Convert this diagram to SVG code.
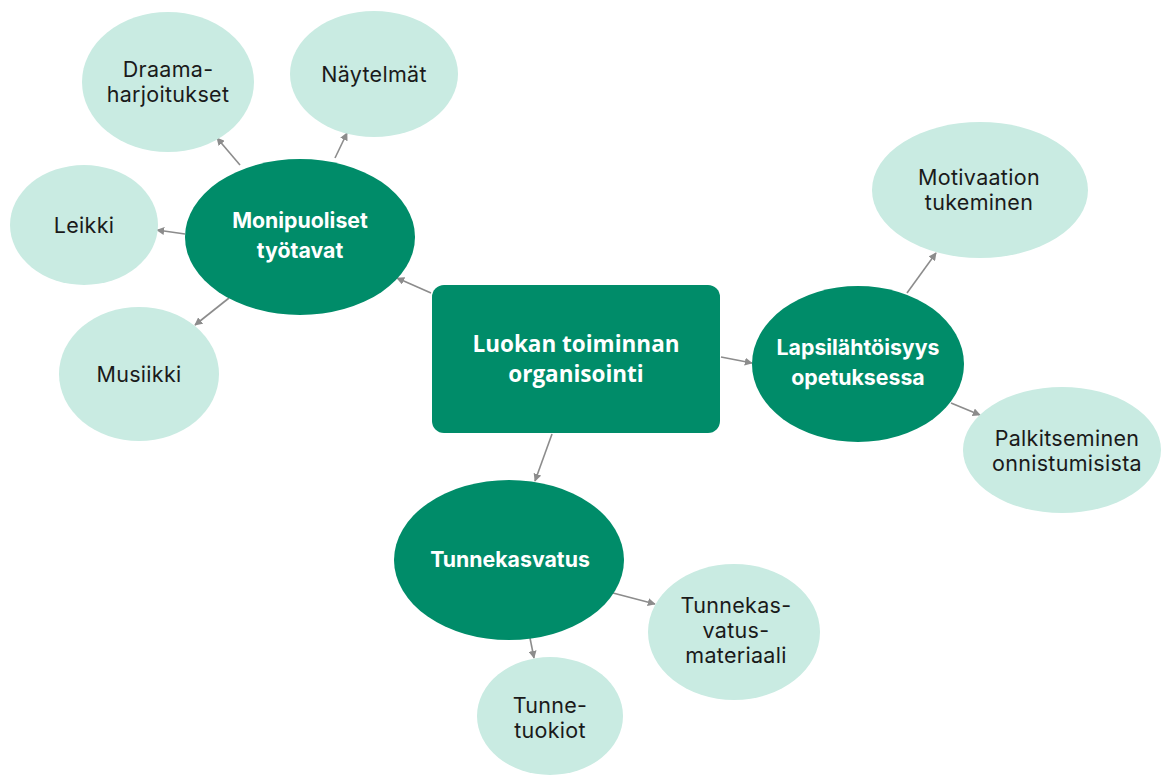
<svg xmlns="http://www.w3.org/2000/svg" width="1161" height="775" viewBox="0 0 1161 775">
  <style>
    .main { fill: #008c69; }
    .leaf { fill: #c9ebe2; }
    .edge { stroke: #8c8c8c; stroke-width: 1.6; fill: none; marker-end: url(#arrow); }
    .tmain { font-family: "Open Sans", "Liberation Sans", sans-serif; font-weight: 700; font-size: 22.5px; fill: #ffffff; text-anchor: middle; }
    .tbold { font-family: Inter, "Liberation Sans", sans-serif; font-weight: 700; font-size: 21.3px; fill: #ffffff; text-anchor: middle; }
    .tleaf { font-family: Inter, "Liberation Sans", sans-serif; font-weight: 400; font-size: 21.5px; letter-spacing: 0.3px; fill: #1a1a1a; text-anchor: middle; }
  </style>
  <defs>
    <marker id="arrow" viewBox="0 0 10 10" refX="9" refY="5" markerWidth="5" markerHeight="5" orient="auto" markerUnits="strokeWidth">
      <path d="M0,0 L10,5 L0,10 z" fill="#8c8c8c"/>
    </marker>
  </defs>
  <rect width="1161" height="775" fill="#ffffff"/>

  <!-- connectors -->
  <g id="connectors">
    <line class="edge" x1="431" y1="293" x2="397" y2="278"/>
    <line class="edge" x1="240" y1="165" x2="217" y2="138"/>
    <line class="edge" x1="335" y1="158" x2="347" y2="133"/>
    <line class="edge" x1="185" y1="234" x2="157" y2="230"/>
    <line class="edge" x1="229" y1="298" x2="195" y2="325"/>
    <line class="edge" x1="721" y1="357" x2="752" y2="363"/>
    <line class="edge" x1="907" y1="293" x2="936" y2="253"/>
    <line class="edge" x1="951" y1="403" x2="980" y2="415"/>
    <line class="edge" x1="552" y1="434" x2="535" y2="481"/>
    <line class="edge" x1="613" y1="593" x2="655" y2="604"/>
    <line class="edge" x1="530" y1="638" x2="534" y2="658"/>
  </g>

  <!-- central node -->
  <g id="n-luokan">
    <rect class="main" x="432" y="285" width="288" height="148" rx="12"/>
    <text class="tmain" x="576" y="352">Luokan toiminnan</text>
    <text class="tmain" x="576" y="382">organisointi</text>
  </g>

  <!-- main branches -->
  <g id="n-monipuoliset">
    <ellipse class="main" cx="300" cy="237" rx="115" ry="78"/>
    <text class="tbold" x="300" y="228">Monipuoliset</text>
    <text class="tbold" x="300" y="258">työtavat</text>
  </g>
  <g id="n-lapsi">
    <ellipse class="main" cx="858" cy="364" rx="106" ry="78"/>
    <text class="tbold" x="858" y="355">Lapsilähtöisyys</text>
    <text class="tbold" x="858" y="385">opetuksessa</text>
  </g>
  <g id="n-tunnekasvatus">
    <ellipse class="main" cx="509" cy="560" rx="115" ry="80"/>
    <text class="tbold" x="510" y="567">Tunnekasvatus</text>
  </g>

  <!-- leaves -->
  <g id="n-draama">
    <ellipse class="leaf" cx="168" cy="82" rx="86" ry="70"/>
    <text class="tleaf" x="168" y="77">Draama-</text>
    <text class="tleaf" x="168" y="102">harjoitukset</text>
  </g>
  <g id="n-naytelmat">
    <ellipse class="leaf" cx="374" cy="74" rx="84" ry="63"/>
    <text class="tleaf" x="374" y="82">Näytelmät</text>
  </g>
  <g id="n-leikki">
    <ellipse class="leaf" cx="84" cy="225" rx="74" ry="60"/>
    <text class="tleaf" x="84" y="233">Leikki</text>
  </g>
  <g id="n-musiikki">
    <ellipse class="leaf" cx="139" cy="374" rx="80" ry="67"/>
    <text class="tleaf" x="139" y="382">Musiikki</text>
  </g>
  <g id="n-motivaatio">
    <ellipse class="leaf" cx="980" cy="190" rx="108" ry="68"/>
    <text class="tleaf" x="979" y="185">Motivaation</text>
    <text class="tleaf" x="979" y="210">tukeminen</text>
  </g>
  <g id="n-palkitseminen">
    <ellipse class="leaf" cx="1062" cy="450" rx="99" ry="63"/>
    <text class="tleaf" x="1067" y="446">Palkitseminen</text>
    <text class="tleaf" x="1067" y="471">onnistumisista</text>
  </g>
  <g id="n-materiaali">
    <ellipse class="leaf" cx="734" cy="632" rx="86" ry="68"/>
    <text class="tleaf" x="736" y="613">Tunnekas-</text>
    <text class="tleaf" x="736" y="638">vatus-</text>
    <text class="tleaf" x="736" y="663">materiaali</text>
  </g>
  <g id="n-tuokiot">
    <ellipse class="leaf" cx="550" cy="716" rx="73" ry="59"/>
    <text class="tleaf" x="550" y="713">Tunne-</text>
    <text class="tleaf" x="550" y="738">tuokiot</text>
  </g>
</svg>
